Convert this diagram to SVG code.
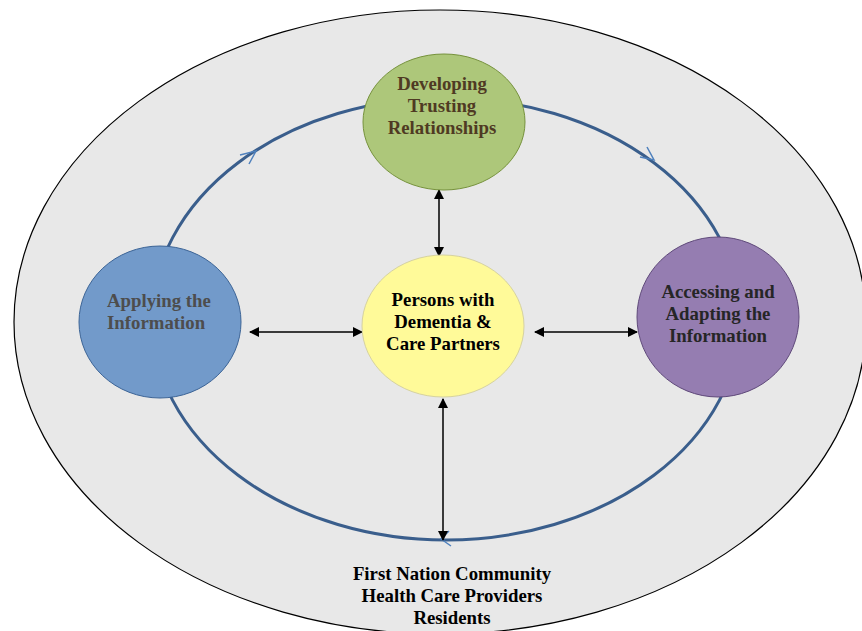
<svg xmlns="http://www.w3.org/2000/svg" width="862" height="631" viewBox="0 0 862 631">
<defs>
<marker id="ah" viewBox="0 0 10 10" refX="9" refY="5" markerWidth="10" markerHeight="10" markerUnits="userSpaceOnUse" orient="auto-start-reverse">
<path d="M0,0 L10,5 L0,10 z" fill="#000"/>
</marker>
<style>
.t{font-family:"Liberation Serif","Times New Roman",serif;font-weight:bold;font-size:18.8px;}
.c{stroke:#000;stroke-width:1.5;fill:none;marker-start:url(#ah);marker-end:url(#ah);}
.ra{stroke:#4F81BD;stroke-width:1.5;fill:none;}
</style>
</defs>
<rect width="862" height="631" fill="#fff"/>
<g id="outer">
<ellipse cx="440" cy="322" rx="426" ry="312" fill="#E8E8E8" stroke="#000" stroke-width="1.2"/>
</g>
<g id="ring">
<ellipse cx="446" cy="319" rx="294" ry="221" fill="none" stroke="#3A5E8C" stroke-width="3"/>
<path class="ra" d="M240,155 L256,151 L249,164"/>
<path class="ra" d="M647,147 L654,160 L640,157"/>
<path class="ra" d="M449,531 L441,539 L451,546"/>
</g>
<g id="connectors">
<line class="c" x1="439" y1="190" x2="439" y2="256"/>
<line class="c" x1="250" y1="332" x2="362" y2="332"/>
<line class="c" x1="535" y1="332" x2="637" y2="332"/>
<line class="c" x1="443" y1="399" x2="443" y2="540"/>
</g>
<g id="developing">
<ellipse cx="444" cy="122" rx="81" ry="68" fill="#ADC77A" stroke="#76923C" stroke-width="1"/>
<text class="t" fill="#4F3A23" text-anchor="middle"><tspan x="442" y="90">Developing</tspan><tspan x="442" y="112">Trusting</tspan><tspan x="442" y="134">Relationships</tspan></text>
</g>
<g id="applying">
<ellipse cx="160" cy="322" rx="81" ry="76" fill="#729ACA" stroke="#3C6496" stroke-width="1"/>
<text class="t" fill="#4D4D4D"><tspan x="107" y="307">Applying the</tspan><tspan x="107" y="329">Information</tspan></text>
</g>
<g id="accessing">
<ellipse cx="718" cy="317" rx="81" ry="80" fill="#957DB1" stroke="#5F497A" stroke-width="1"/>
<text class="t" fill="#262626" text-anchor="middle"><tspan x="718" y="298">Accessing and</tspan><tspan x="718" y="320">Adapting the</tspan><tspan x="718" y="342">Information</tspan></text>
</g>
<g id="persons">
<ellipse cx="443" cy="326" rx="81" ry="71" fill="#FFFA99" stroke="#D6D2A0" stroke-width="1"/>
<text class="t" fill="#000" text-anchor="middle"><tspan x="443" y="306">Persons with</tspan><tspan x="443" y="328">Dementia &amp;</tspan><tspan x="443" y="350">Care Partners</tspan></text>
</g>
<g id="community">
<text class="t" fill="#000" text-anchor="middle"><tspan x="452" y="580">First Nation Community</tspan><tspan x="452" y="602">Health Care Providers</tspan><tspan x="452" y="624">Residents</tspan></text>
</g>
</svg>
